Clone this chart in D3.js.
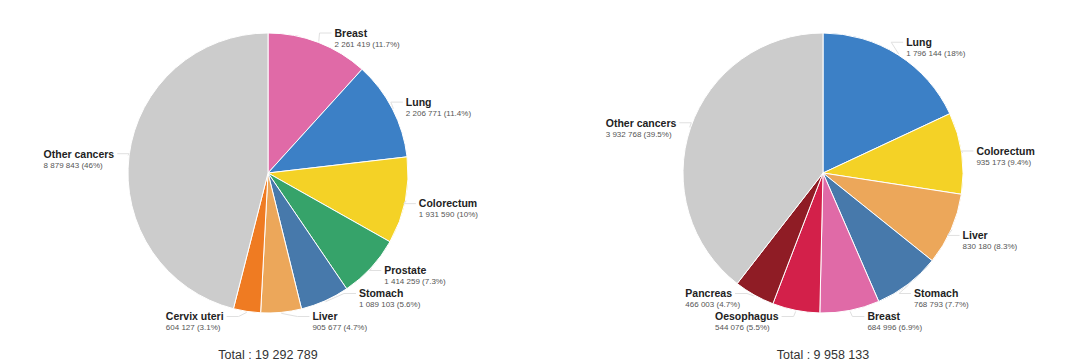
<!DOCTYPE html>
<html>
<head>
<meta charset="utf-8">
<script src="https://cdn.jsdelivr.net/npm/d3@7"></script>
<style>
  body { margin: 0; background: #fff; }
  svg { display: block; font-family: 'Liberation Sans', Arial, sans-serif; }
</style>
</head>
<body>
<div id="chart"></div>
<script>
(function () {

  'use strict';

  const WIDTH = 1080;
  const HEIGHT = 363;
  const RADIUS = 140;
  const LABEL_RADIUS = 155;
  const LABEL_SPACING = 23;
  const LABEL_MIN_Y = 33;
  const LABEL_MAX_Y = 316.5;

  // Left pie: all cancers, both sexes.
  const leftNames = ['Breast', 'Lung', 'Colorectum', 'Prostate', 'Stomach', 'Liver', 'Cervix uteri', 'Other cancers'];
  const leftValues = [2261419, 2206771, 1931590, 1414259, 1089103, 905677, 604127, 8879843];
  const leftColors = ['#e06aa7', '#3c80c6', '#f4d226', '#36a36a', '#4779ab', '#eca75a', '#ef7b22', '#cccccc'];

  // Right pie: deaths.
  const rightNames = ['Lung', 'Colorectum', 'Liver', 'Stomach', 'Breast', 'Oesophagus', 'Pancreas', 'Other cancers'];
  const rightValues = [1796144, 935173, 830180, 768793, 684996, 544076, 466003, 3932768];
  const rightColors = ['#3c80c6', '#f4d226', '#eca75a', '#4779ab', '#e06aa7', '#d3204a', '#8f1c25', '#cccccc'];

  const locale = d3.formatLocale({decimal: '.', thousands: ' ', grouping: [3], currency: ['', '']});
  const fmtNum = locale.format(',');
  const fmtPct = function (v) {
    let s = d3.format('.1f')(v);
    return s.replace(/\.0$/, '') + '%';
  };

  let svg = d3.select('#chart')
    .append('svg')
    .attr('width', WIDTH)
    .attr('height', HEIGHT);

  let drawPie = function (names, values, colors, cx, cy) {
    let total = d3.sum(values);
    let data = names.map(function (n, i) {
      return {name: n, value: values[i], color: colors[i]};
    });

    let pie = d3.pie()
      .sort(null)
      .value(function (d) { return d.value; });
    let arcs = pie(data);

    let arc = d3.arc().innerRadius(0).outerRadius(RADIUS);

    let g = svg.append('g')
      .attr('transform', 'translate(' + cx + ',' + cy + ')');

    g.selectAll('path.slice')
      .data(arcs)
      .enter()
      .append('path')
      .attr('class', 'slice')
      .attr('d', arc)
      .style('fill', function (d) { return d.data.color; })
      .style('stroke', '#ffffff')
      .style('stroke-width', 1);

    // Label layout: natural position on a bigger circle, then push apart.
    let labels = arcs.map(function (d) {
      let a = (d.startAngle + d.endAngle) / 2;
      return {
        d: d,
        angle: a,
        right: Math.sin(a) >= 0,
        y: -LABEL_RADIUS * Math.cos(a)
      };
    });

    [true, false].forEach(function (side) {
      let group = labels.filter(function (l) { return l.right === side; })
        .sort(function (a, b) { return a.y - b.y; });
      for (let i = group.length - 1; i >= 0; i--) {
        let limit = i === group.length - 1 ? LABEL_MAX_Y - cy : group[i + 1].y - LABEL_SPACING;
        if (group[i].y > limit) {
          group[i].y = limit;
        }
      }
      for (let i = 0; i < group.length; i++) {
        let limit = i === 0 ? LABEL_MIN_Y - cy : group[i - 1].y + LABEL_SPACING;
        if (group[i].y < limit) {
          group[i].y = limit;
        }
      }
    });

    labels.forEach(function (l) {
      // Lower labels are measured from the middle of the two lines.
      let yc = l.y < 0 ? l.y : l.y + 5;
      let dy = Math.min(LABEL_RADIUS, Math.abs(yc));
      let dx = Math.sqrt(LABEL_RADIUS * LABEL_RADIUS - dy * dy);
      l.x = l.right ? dx : -dx;
    });

    // Connectors.
    g.selectAll('path.connector')
      .data(labels)
      .enter()
      .append('path')
      .attr('class', 'connector')
      .attr('d', function (l) {
        let ex = (RADIUS + 1) * Math.sin(l.angle);
        let ey = -(RADIUS + 1) * Math.cos(l.angle);
        let sign = l.right ? 1 : -1;
        let endX = l.x - sign * 3;
        let bx = endX - sign * 12;
        return 'M' + ex + ',' + ey + 'L' + bx + ',' + l.y + 'L' + endX + ',' + l.y;
      })
      .style('fill', 'none')
      .style('stroke', '#e0e0e0')
      .style('stroke-width', 1);

    let lg = g.selectAll('g.label')
      .data(labels)
      .enter()
      .append('g')
      .attr('class', 'label');

    lg.append('text')
      .attr('class', 'name')
      .attr('y', function (l) { return l.y + 3.8; })
      .style('font-size', '10.5px')
      .style('font-weight', 'bold')
      .style('fill', '#222')
      .text(function (l) { return l.d.data.name; });

    lg.append('text')
      .attr('class', 'value')
      .attr('y', function (l) { return l.y + 13.8; })
      .style('font-size', '8px')
      .style('fill', '#555')
      .text(function (l) {
        return fmtNum(l.d.data.value) + ' (' + fmtPct(l.d.data.value / total * 100) + ')';
      });

    lg.each(function (l) {
      let w = d3.select(this).select('text.name').node().getComputedTextLength();
      let x0 = l.right ? l.x : l.x - w;
      d3.select(this).selectAll('text').attr('x', x0);
    });

    svg.append('text')
      .attr('x', cx)
      .attr('y', 359)
      .attr('text-anchor', 'middle')
      .style('font-size', '12.5px')
      .style('fill', '#333')
      .text('Total : ' + fmtNum(total));
  };

  drawPie(leftNames, leftValues, leftColors, 268, 173);
  drawPie(rightNames, rightValues, rightColors, 823, 173);

}());
</script>
</body>
</html>
